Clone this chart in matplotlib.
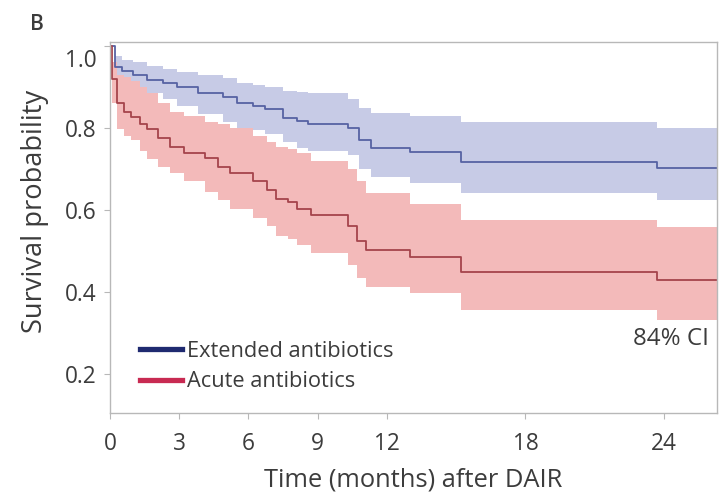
import matplotlib
matplotlib.use("Agg")
import matplotlib.pyplot as plt
import matplotlib.transforms as mtransforms
from matplotlib.lines import Line2D

# Extended antibiotics
ext_t = [0, 0.2, 0.5, 1.0, 1.6, 2.3, 2.9, 3.8, 4.9, 5.5, 6.2, 6.7, 7.5, 8.1, 8.6,
         10.3, 10.8, 11.3, 13.0, 15.2, 23.7, 26.3]
ext_s = [1.0, 0.95, 0.94, 0.93, 0.917, 0.91, 0.90, 0.885, 0.877, 0.86, 0.855, 0.847,
         0.825, 0.817, 0.81, 0.80, 0.77, 0.751, 0.742, 0.718, 0.703, 0.703]
ext_hi = [1.0, 0.975, 0.967, 0.96, 0.952, 0.945, 0.938, 0.93, 0.922, 0.91, 0.905, 0.90,
          0.89, 0.887, 0.885, 0.872, 0.85, 0.837, 0.83, 0.815, 0.80, 0.80]
ext_lo = [1.0, 0.93, 0.915, 0.90, 0.885, 0.87, 0.855, 0.835, 0.815, 0.80, 0.795, 0.785,
          0.765, 0.752, 0.745, 0.735, 0.70, 0.681, 0.666, 0.641, 0.624, 0.624]

# Acute antibiotics
acu_t = [0, 0.1, 0.3, 0.6, 0.9, 1.3, 1.6, 2.1, 2.6, 3.2, 4.1, 4.7, 5.2, 6.2, 6.8, 7.2,
         7.7, 8.1, 8.7, 10.3, 10.7, 11.1, 13.0, 15.2, 23.7, 26.3]
acu_s = [1.0, 0.92, 0.86, 0.84, 0.827, 0.81, 0.797, 0.775, 0.755, 0.74, 0.726, 0.705,
         0.69, 0.67, 0.65, 0.628, 0.62, 0.603, 0.588, 0.56, 0.525, 0.502, 0.486, 0.449,
         0.429, 0.429]
acu_hi = [1.0, 0.96, 0.93, 0.925, 0.915, 0.90, 0.885, 0.86, 0.84, 0.83, 0.815, 0.81,
          0.80, 0.78, 0.765, 0.755, 0.75, 0.74, 0.72, 0.70, 0.67, 0.641, 0.616, 0.576,
          0.559, 0.559]
acu_lo = [1.0, 0.86, 0.797, 0.78, 0.77, 0.745, 0.725, 0.705, 0.69, 0.67, 0.645, 0.625,
          0.603, 0.58, 0.56, 0.537, 0.53, 0.515, 0.495, 0.465, 0.435, 0.413, 0.397, 0.356,
          0.332, 0.332]

x_ticks = [0, 3, 6, 9, 12, 18, 24]
y_ticks = [0.2, 0.4, 0.6, 0.8, 1.0]
y_labels = ["0.2", "0.4", "0.6", "0.8", "1.0"]
series_names = ["Extended antibiotics", "Acute antibiotics"]

plt.rcParams["font.family"] = ["Open Sans", "DejaVu Sans"]
text_col = "#3c3c3c"
frame_col = "#b8b8b8"

fig = plt.figure(figsize=(7.21, 4.97), dpi=100)
renderer = fig.canvas.get_renderer()


def fitted_size(s, target_px, base=12.0):
    # font size that makes string s about target_px wide
    t = fig.text(0, 0, s, fontsize=base)
    w = t.get_window_extent(renderer).width
    t.remove()
    return base * target_px / w


tick_fs = fitted_size("0.8", 32)
leg_fs = fitted_size(series_names[0], 204)
xlab_fs = fitted_size("Time (months) after DAIR", 298)
ylab_fs = fitted_size("Survival probability", 241)
ci_fs = fitted_size("84% CI", 76)

# axes box: left 110, right 717, top 42, bottom 413 px
ax = fig.add_axes([110 / 721, 1 - 413 / 497, 607 / 721, 371 / 497])

ax.fill_between(ext_t, ext_lo, ext_hi, step="post", color="#c7cbe6", lw=0)
ax.fill_between(acu_t, acu_lo, acu_hi, step="post", color="#f3baba", lw=0)
ax.step(ext_t, ext_s, where="post", color="#5762a3", lw=1.3)
ax.step(acu_t, acu_s, where="post", color="#a5444c", lw=1.3)

ax.set_xlim(0, 26.3)
ax.set_ylim(0.105, 1.01)
ax.set_xticks(x_ticks)
ax.set_yticks(y_ticks)
ax.set_yticklabels(y_labels)
ax.tick_params(colors=frame_col, labelcolor=text_col, labelsize=tick_fs,
               length=4, width=0.8)
ax.tick_params(axis="x", pad=9.5)
ax.tick_params(axis="y", pad=5.5)
for sp in ax.spines.values():
    sp.set_color(frame_col)
    sp.set_linewidth(1.0)

# the "1.0" label sits a little below its tick in the original
top_lab = ax.yaxis.get_major_ticks()[-1].label1
top_lab.set_transform(top_lab.get_transform() +
                      mtransforms.ScaledTranslation(0, -0.12, fig.dpi_scale_trans))

ax.set_xlabel("Time (months) after DAIR", fontsize=xlab_fs, color=text_col, va="center")
ax.xaxis.set_label_coords(0.5, -(480 - 413) / 371)
ax.set_ylabel("Survival probability", fontsize=ylab_fs, color=text_col, va="center")
ax.yaxis.set_label_coords(-(110 - 35) / 607, (413 - 211) / 371)

em_px = leg_fs * 100 / 72
handles = [Line2D([0], [0], color="#1f2a70", lw=3.8),
           Line2D([0], [0], color="#c82a52", lw=3.8)]
leg = ax.legend(handles, series_names, loc="center left", frameon=False,
                fontsize=leg_fs, handlelength=42 / em_px, handletextpad=5 / em_px,
                labelspacing=0.45, borderpad=0, borderaxespad=0,
                bbox_to_anchor=((140 - 110) / 607, (413 - 366.5) / 371))
for t in leg.get_texts():
    t.set_color(text_col)

ax.text(25.95, 0.285, "84% CI", ha="right", va="center", fontsize=ci_fs, color=text_col)
fig.text(30 / 721, 1 - 24.5 / 497, "B", fontsize=15, fontweight="semibold",
         color=text_col, va="center")

fig.savefig("out.png", dpi=100)
